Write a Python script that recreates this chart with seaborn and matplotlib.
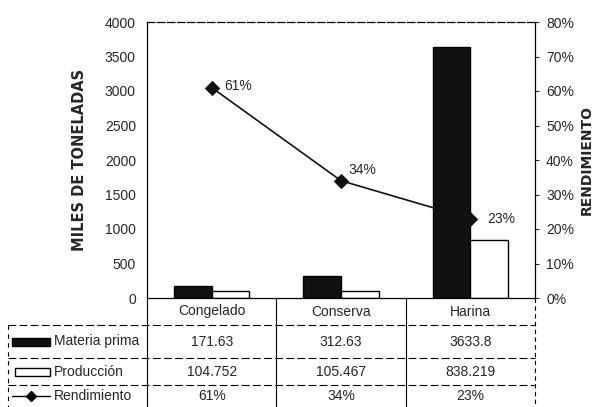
import matplotlib
matplotlib.use("Agg")
import matplotlib.pyplot as plt
import pandas as pd
import seaborn as sns
from matplotlib.patches import Rectangle
from matplotlib.lines import Line2D
from matplotlib.ticker import PercentFormatter

# %% data
categories = ["Congelado", "Conserva", "Harina"]
materia_prima = [171.63, 312.63, 3633.8]
produccion = [104.752, 105.467, 838.219]
rendimiento = [0.61, 0.34, 0.23]
series_names = ["Materia prima", "Producción", "Rendimiento"]

sns.set_style("white")
plt.rcParams["font.family"] = ["Liberation Sans", "DejaVu Sans"]

df = pd.DataFrame({
    "categoria": categories * 2,
    "valor": materia_prima + produccion,
    "serie": [series_names[0]] * 3 + [series_names[1]] * 3,
})

fig = plt.figure(figsize=(5.98, 4.07), dpi=100)
ax = fig.add_axes([147 / 598, 109 / 407, 388 / 598, 276 / 407])

sns.barplot(
    data=df, x="categoria", y="valor", hue="serie",
    palette=["#111111", "white"], edgecolor="black", linewidth=1.0,
    width=0.58, ax=ax, legend=False,
)
ax.set_xlim(-0.5, 2.5)
ax.set_ylim(0, 4000)
ax.set_yticks(range(0, 4001, 500))
ax.tick_params(axis="y", labelsize=10, length=0, pad=8)
ax.set_xticks([])
ax.set_xlabel("")
ax.set_ylabel("MILES DE TONELADAS", family="DejaVu Sans", fontweight="heavy",
              fontsize=10.5, labelpad=13)
for s in ax.spines.values():
    s.set_color("black")
    s.set_linewidth(0.9)
ax.spines["top"].set_linestyle((0, (6, 2)))

# rendimiento line
ax2 = ax.twinx()
sns.lineplot(x=[0, 1, 2], y=rendimiento, ax=ax2, color="#111111",
             marker="D", markersize=7, markeredgecolor="#111111", linewidth=1.2)
ax2.set_ylim(0, 0.8)
ax2.set_yticks([i / 10 for i in range(9)])
ax2.yaxis.set_major_formatter(PercentFormatter(1.0, decimals=0))
ax2.tick_params(axis="y", labelsize=10, length=3, pad=5)
ax2.set_ylabel("RENDIMIENTO", family="DejaVu Sans", fontweight="heavy",
               fontsize=10, labelpad=4, rotation=90)
ax2.yaxis.set_label_position("right")
for s in ax2.spines.values():
    s.set_visible(False)

offsets = [(9, 1), (5, 8), (12, 0)]
for i, (v, off) in enumerate(zip(rendimiento, offsets)):
    ax2.annotate(f"{v:.0%}", (i, v), xytext=off, textcoords="offset points",
                 ha="left", va="center", fontsize=10)

# %% data table below the plot
tr = ax.transAxes
row_edges = [0, -27 / 276, -60 / 276, -87 / 276, -109 / 276]
left_x = (8 - 147) / 388

line_kw = dict(color="black", linewidth=0.8, clip_on=False)
for y in row_edges[1:4]:
    ax.add_line(Line2D([left_x, 1], [y, y], transform=tr, linestyle=(0, (7, 3)), **line_kw))
ax.add_line(Line2D([left_x, left_x], [row_edges[1], row_edges[4]], transform=tr,
                   linestyle=(0, (4, 4)), **line_kw))
for x in [0, 1 / 3, 2 / 3]:
    ax.add_line(Line2D([x, x], [0, row_edges[4]], transform=tr, **line_kw))
ax.add_line(Line2D([1, 1], [0, row_edges[4]], transform=tr, linestyle=(0, (4, 3)), **line_kw))

row_mid = [(row_edges[k] + row_edges[k + 1]) / 2 for k in range(4)]
xtr = ax.get_xaxis_transform()
table_rows = [
    categories,
    [f"{v:g}" for v in materia_prima],
    [f"{v:g}" for v in produccion],
    [f"{v:.0%}" for v in rendimiento],
]
for k, row in enumerate(table_rows):
    for i, txt in enumerate(row):
        ax.text(i, row_mid[k], txt, transform=xtr, ha="center", va="center",
                fontsize=10, clip_on=False)

# row labels with legend keys
key_l, key_r = (12 - 147) / 388, (50 - 147) / 388
key_h = 8 / 276
ax.add_patch(Rectangle((key_l, row_mid[1] - key_h / 2), key_r - key_l, key_h,
                       transform=tr, facecolor="#111111", edgecolor="black", clip_on=False))
ax.add_patch(Rectangle((key_l + 0.008, row_mid[2] - key_h / 2), key_r - key_l - 0.008, key_h,
                       transform=tr, facecolor="white", edgecolor="black", clip_on=False))
ax.add_line(Line2D([key_l, (key_l + key_r) / 2, key_r], [row_mid[3]] * 3, transform=tr,
                   marker="D", markevery=[1], markersize=5, color="black",
                   linewidth=1.0, clip_on=False))
for k, name in zip([1, 2, 3], series_names):
    ax.text(key_r + 0.01, row_mid[k], name, transform=tr, ha="left", va="center",
            fontsize=10, clip_on=False)

plt.savefig("out.png", dpi=100)
